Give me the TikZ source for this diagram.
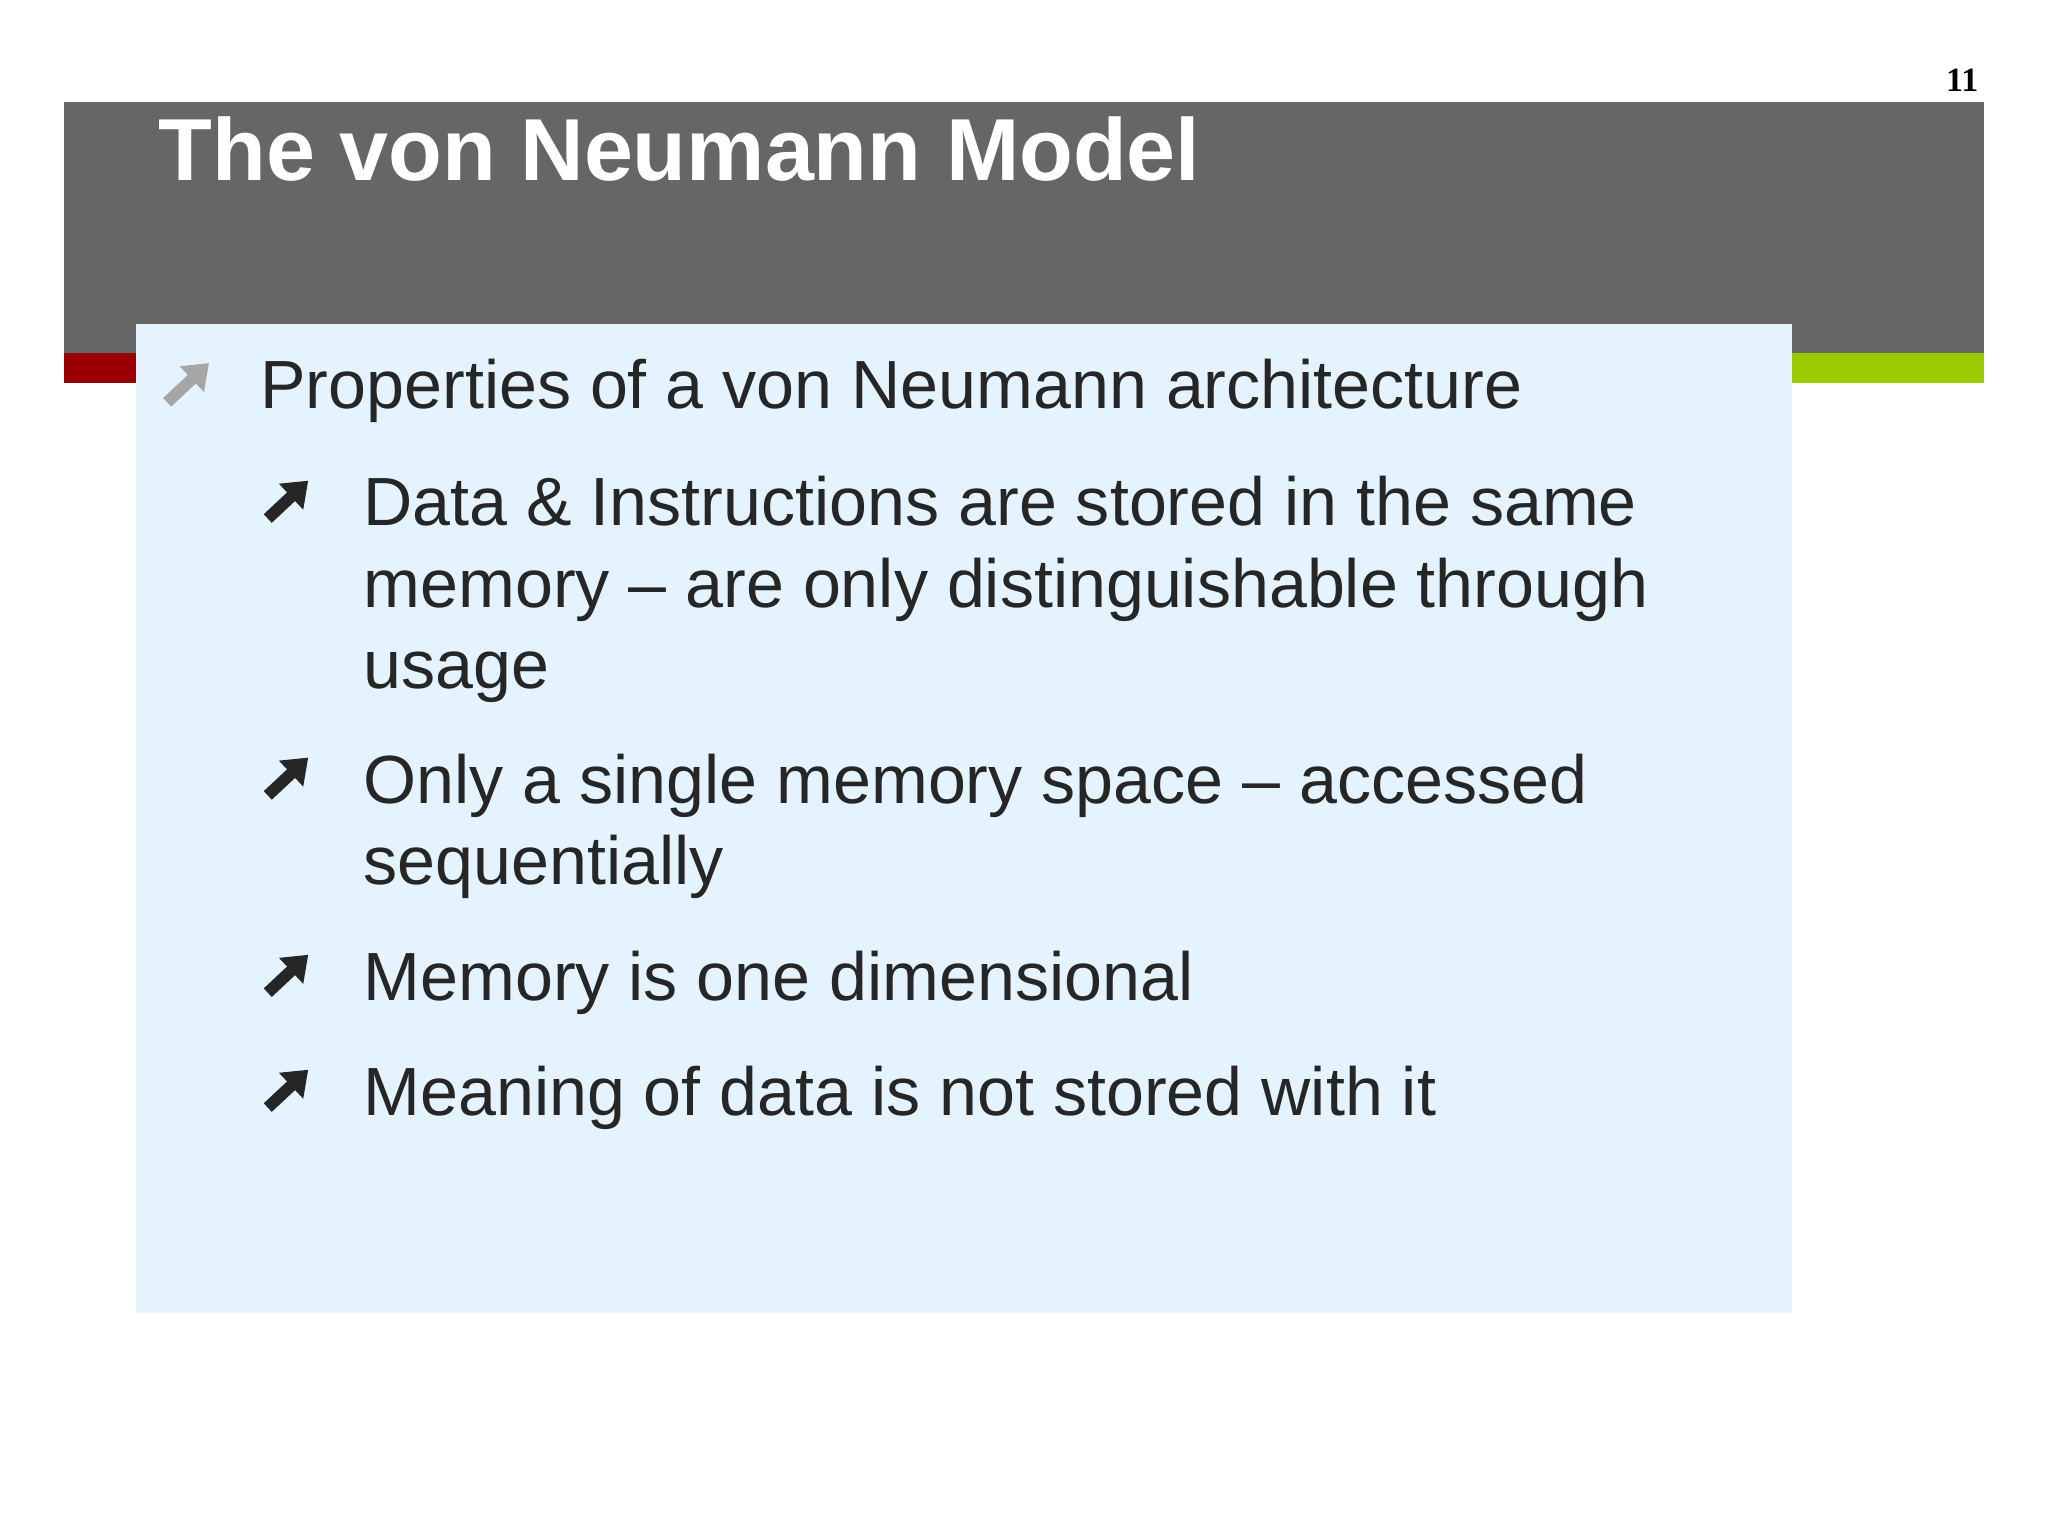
\documentclass[tikz,border=0pt]{standalone}
\usepackage{fontspec}
\setmainfont{Liberation Sans}
\usetikzlibrary{arrows.meta}
\definecolor{band}{HTML}{666666}
\definecolor{redst}{HTML}{9B0000}
\definecolor{greenst}{HTML}{99CC00}
\definecolor{boxbg}{HTML}{E4F3FD}
\definecolor{txt}{HTML}{262626}
\tikzset{
  body/.style={anchor=base west,inner sep=0pt,text=txt,font=\fontsize{26.1}{31}\selectfont},
  bul/.style={line width=4.5pt,-{Triangle[length=9pt,width=13pt]}},
}
\begin{document}
\begin{tikzpicture}[x=0.5pt,y=-0.5pt]
\useasboundingbox (0,0) rectangle (1568,1176);
\fill[white] (0,0) rectangle (1568,1176);
\fill[band] (49,78) rectangle (1519,270);
\fill[redst] (49,270) rectangle (104,293);
\fill[greenst] (1372,270) rectangle (1519,293);
\fill[boxbg] (104,248) rectangle (1372,1005);
\node[anchor=base east,inner sep=0pt,font=\fontspec{Liberation Serif}\bfseries\fontsize{13}{15}\selectfont] (pg) at (1515,70) {11};
\node[anchor=base west,inner sep=0pt,text=white,font=\bfseries\fontsize{33.7}{40}\selectfont] (title) at (121,138) {The von Neumann Model};
\draw[bul,draw=gray!70,fill=gray!70] (128,308) -- (160,278);
\node[body] (p0) at (199,313) {Properties of a von Neumann architecture};
\foreach \y in {397,609,760,848}{\draw[bul,draw=txt] (205,\y) -- (236,368-397+\y);}
\node[body] (p1a) at (278,402) {Data \& Instructions are stored in the same};
\node[body] (p1b) at (278,465) {memory – are only distinguishable through};
\node[body] (p1c) at (278,527) {usage};
\node[body] (p2a) at (278,615) {Only a single memory space – accessed};
\node[body] (p2b) at (278,677) {sequentially};
\node[body] (p3) at (278,766) {Memory is one dimensional};
\node[body] (p4) at (278,854) {Meaning of data is not stored with it};
\end{tikzpicture}
\end{document}
